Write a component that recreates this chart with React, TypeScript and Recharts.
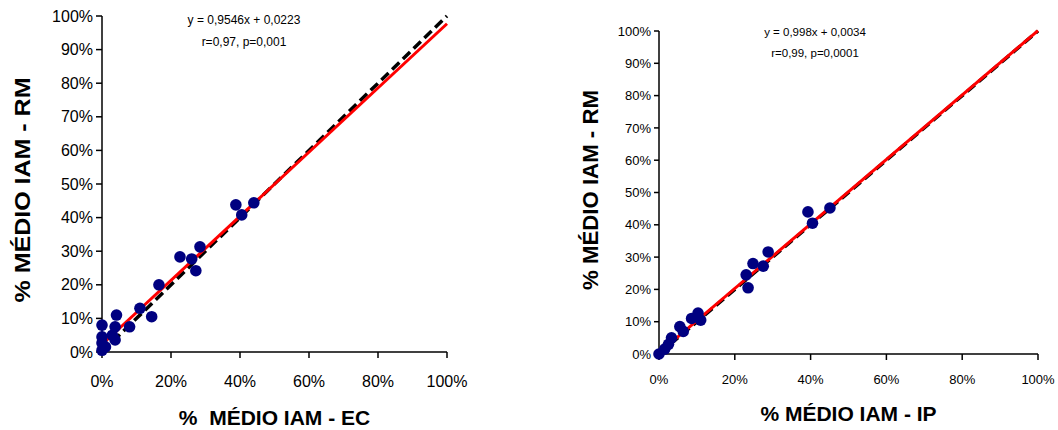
import React from 'react';
import { ScatterChart, Scatter, XAxis, YAxis, ReferenceLine, Label } from 'recharts';

// % médio IAM - EC (x) vs RM (y), left panel
const ecX = [0, 0, 0, 0, 1, 3.8, 3.8, 4.2, 3, 8, 11, 14.4, 16.5, 22.6, 26, 27.2, 28.4, 38.8, 40.5, 44];
const ecY = [0.5, 2.7, 4.5, 8, 1.5, 3.6, 7.5, 11, 5, 7.5, 13, 10.5, 20, 28.3, 27.7, 24.2, 31.3, 43.8, 40.8, 44.4];

// % médio IAM - IP (x) vs RM (y), right panel
const ipX = [0, 1.5, 2.5, 3.3, 5.5, 6.4, 8.6, 10.3, 11, 23, 23.5, 24.8, 27.5, 28.8, 39.3, 40.5, 45.1];
const ipY = [0, 1.5, 3, 5, 8.5, 7, 11, 12.7, 10.5, 24.5, 20.5, 28, 27.2, 31.6, 44, 40.5, 45.2];

// regression: slope, intercept
const ecFit = [0.9546, 0.0223];
const ipFit = [0.998, 0.0034];

const ecText = ['y = 0,9546x + 0,0223', 'r=0,97, p=0,001'];
const ipText = ['y = 0,998x + 0,0034', 'r=0,99, p=0,0001'];

const yTicks = [0, 0.1, 0.2, 0.3, 0.4, 0.5, 0.6, 0.7, 0.8, 0.9, 1];
const xTicks = [0, 0.2, 0.4, 0.6, 0.8, 1];

const FONT = '"Liberation Sans", Arial, sans-serif';
const pct = (v: number) => `${Math.round(v * 100)}%`;

const toPoints = (xs: number[], ys: number[]) => xs.map((x, i) => ({ x: x / 100, y: ys[i] / 100 }));

const Dot = (props: any) => <circle cx={props.cx} cy={props.cy} r={5.8} fill="#000080" />;

type PanelProps = {
  left: number;
  width: number;
  top: number;
  right: number;
  yAxisW: number;
  xAxisH: number;
  tickSize: number;
  fontSize: number;
  xTickMargin: number;
  data: { x: number; y: number }[];
  fit: number[];
  xTitle: string;
  yTitleX: number;
  yTitleY: number;
  yTitleLen: number;
  xTitleY: number;
};

const Panel = (p: PanelProps) => (
  <div style={{ position: 'absolute', left: p.left, top: 0 }}>
    <ScatterChart width={p.width} height={430} margin={{ top: p.top, right: p.right, bottom: 0, left: 0 }}>
      <XAxis
        type="number"
        dataKey="x"
        domain={[0, 1]}
        ticks={xTicks}
        tickFormatter={pct}
        height={p.xAxisH}
        tickSize={6}
        tickMargin={p.xTickMargin}
        stroke="#000"
        strokeWidth={1.5}
        tick={{ fill: '#000', fontSize: p.fontSize, fontFamily: FONT }}
      >
        <Label
          content={() => (
            <text x={p.yAxisW + (p.width - p.yAxisW - p.right) / 2} y={p.xTitleY} textAnchor="middle"
              dominantBaseline="central" fontFamily={FONT} fontWeight="bold" fontSize={21} fill="#000"
              style={{ whiteSpace: 'pre' }}>
              {p.xTitle}
            </text>
          )}
        />
      </XAxis>
      <YAxis
        type="number"
        dataKey="y"
        domain={[0, 1]}
        ticks={yTicks}
        tickFormatter={pct}
        width={p.yAxisW}
        tickSize={p.tickSize}
        tickMargin={3}
        stroke="#000"
        strokeWidth={1.5}
        tick={{ fill: '#000', fontSize: p.fontSize, fontFamily: FONT }}
      >
        <Label
          content={() => (
            <text x={p.yTitleX} y={p.yTitleY} textAnchor="middle" dominantBaseline="central"
              transform={`rotate(-90 ${p.yTitleX} ${p.yTitleY})`} fontFamily={FONT} fontWeight="bold"
              fontSize={22} fill="#000" textLength={p.yTitleLen} lengthAdjust="spacingAndGlyphs">
              % MÉDIO IAM - RM
            </text>
          )}
        />
      </YAxis>
      <Scatter data={p.data} shape={Dot} isAnimationActive={false} />
      <ReferenceLine segment={[{ x: 0, y: 0 }, { x: 1, y: 1 }]} stroke="#000" strokeWidth={3.5}
        strokeDasharray="10 5" ifOverflow="visible" />
      <ReferenceLine segment={[{ x: 0, y: p.fit[1] }, { x: 1, y: p.fit[0] + p.fit[1] }]} stroke="#ff0000"
        strokeWidth={3} ifOverflow="visible" />
    </ScatterChart>
  </div>
);

const Note = ({ x, y, size, lines }: { x: number; y: number; size: number; lines: string[] }) => (
  <div style={{ position: 'absolute', left: x - 80, top: y, width: 160, textAlign: 'center', fontFamily: FONT, fontSize: size, lineHeight: `${size * 1.85}px`, color: '#000' }}>
    {lines.map((l) => (
      <div key={l}>{l}</div>
    ))}
  </div>
);

export default function App() {
  return (
    <div style={{ position: 'absolute', left: 0, top: 0, width: 1058, height: 430, background: '#fff', overflow: 'hidden' }}>
      <Panel
        left={0} width={470} top={16} right={23} yAxisW={102} xAxisH={78} tickSize={6} fontSize={16} xTickMargin={18}
        data={toPoints(ecX, ecY)} fit={ecFit} xTitle="%  MÉDIO IAM - EC"
        yTitleX={22} yTitleY={190} yTitleLen={225} xTitleY={417}
      />
      <Panel
        left={530} width={528} top={31} right={20} yAxisW={129} xAxisH={76} tickSize={5} fontSize={13} xTickMargin={15}
        data={toPoints(ipX, ipY)} fit={ipFit} xTitle="% MÉDIO IAM - IP"
        yTitleX={60} yTitleY={190} yTitleLen={200} xTitleY={413}
      />
      <Note x={244} y={9} size={12} lines={ecText} />
      <Note x={815} y={22} size={11.5} lines={ipText} />
    </div>
  );
}
